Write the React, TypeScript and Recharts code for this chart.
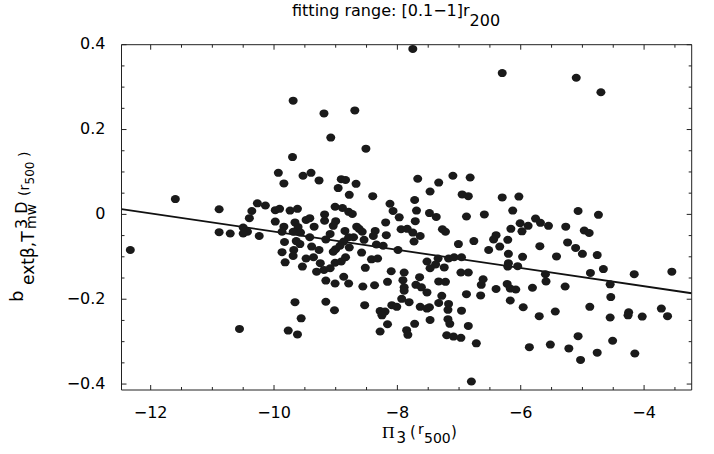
import React from 'react';
import { ScatterChart, Scatter, XAxis, YAxis, ReferenceLine } from 'recharts';

// Pi_3 (x) and b (y) values, one pair per cluster
const piX = [
  -8.51, -9.70, -9.93, -9.84, -9.53, -9.40, -9.27, -8.91, -8.84, -8.96,
  -8.67, -8.78, -8.40, -7.67, -7.33, -7.47, -7.10, -6.82, -6.95, -6.85,
  -6.30, -6.03, -10.89, -10.36, -10.27, -10.14, -10.40, -9.98, -9.91, -9.74,
  -9.62, -9.98, -9.01, -8.89, -8.79, -8.73, -9.18, -9.18, -9.48, -9.42,
  -9.00, -8.12, -8.07, -7.97, -7.72, -7.69, -7.71, -7.48, -7.37, -6.88,
  -6.59, -6.13, -5.07, -4.74, -5.76, -5.68, -5.55, -10.89, -10.71, -10.50,
  -10.43, -10.50, -10.24, -9.84, -9.87, -9.66, -9.61, -9.69, -9.57, -9.35,
  -9.04, -9.09, -9.16, -8.85, -8.79, -8.66, -8.62, -8.57, -8.71, -8.54,
  -8.36, -8.39, -8.19, -8.18, -7.94, -7.84, -7.75, -7.63, -7.73, -7.27,
  -7.22, -6.16, -6.01, -5.98, -5.88, -5.27, -4.97, -4.89, -6.40, -6.44,
  -6.21, -9.83, -9.64, -9.58, -9.42, -9.39, -9.27, -9.87, -9.68, -9.69,
  -9.00, -9.04, -8.87, -8.78, -8.93, -8.58, -8.34, -8.23, -7.99, -7.01,
  -6.76, -6.52, -6.34, -5.69, -5.24, -5.11, -6.20, -5.97, -5.42, -5.00,
  -4.76, -9.82, -9.48, -9.36, -9.25, -9.54, -9.31, -9.19, -9.09, -9.01,
  -8.91, -8.84, -8.42, -8.32, -8.52, -7.52, -7.34, -7.38, -7.47, -7.24,
  -7.17, -7.08, -6.96, -8.10, -7.89, -6.97, -6.85, -6.20, -6.05, -6.21,
  -4.66, -4.87, -5.60, -4.16, -9.16, -9.01, -8.87, -8.79, -8.56, -8.37,
  -8.16, -7.91, -7.89, -7.64, -7.70, -7.61, -7.89, -7.52, -7.33, -7.22,
  -6.61, -6.64, -6.88, -6.65, -6.40, -6.22, -6.17, -6.08, -5.81, -5.59,
  -5.28, -4.55, -4.54, -9.66, -9.16, -9.02, -9.56, -8.53, -8.28, -8.20,
  -8.25, -8.09, -8.01, -7.93, -7.81, -7.63, -7.52, -7.48, -7.33, -7.28,
  -7.17, -7.18, -6.96, -7.47, -7.18, -7.15, -6.17, -5.96, -5.70, -5.44,
  -4.88, -4.55, -4.25, -4.26, -10.56, -9.77, -9.62, -8.28, -8.16, -7.85,
  -7.83, -7.72, -7.20, -7.09, -6.97, -6.85, -6.72, -5.86, -5.52, -5.22,
  -5.07, -5.03, -4.76, -4.51, -4.15, -6.80, -4.03, -7.75, -6.30, -5.10,
  -4.70, -9.69, -8.69, -9.19, -9.08, -12.33, -11.60, -3.55, -3.72, -3.62,
];

const bY = [
  0.155, 0.135, 0.098, 0.073, 0.091, 0.098, 0.080, 0.083, 0.081, 0.062,
  0.072, 0.046, 0.043, 0.084, 0.075, 0.054, 0.091, 0.087, 0.047, 0.043,
  0.040, 0.042, 0.012, 0.008, 0.026, 0.021, -0.009, 0.010, 0.013, 0.009,
  0.013, -0.017, 0.018, 0.015, 0.006, 0.001, 0.000, -0.015, -0.013, -0.009,
  -0.016, 0.025, 0.008, -0.007, 0.034, 0.009, -0.016, 0.003, -0.006, -0.005,
  0.000, 0.009, 0.008, -0.001, -0.010, -0.020, -0.027, -0.042, -0.045, -0.031,
  -0.041, -0.045, -0.051, -0.029, -0.041, -0.019, -0.030, -0.041, -0.043, -0.029,
  -0.027, -0.046, -0.059, -0.039, -0.054, -0.029, -0.034, -0.041, -0.054, -0.060,
  -0.039, -0.051, -0.019, -0.049, -0.035, -0.034, -0.043, -0.051, -0.064, -0.035,
  -0.041, -0.034, -0.021, -0.040, -0.027, -0.029, -0.038, -0.044, -0.049, -0.059,
  -0.060, -0.065, -0.063, -0.070, -0.054, -0.076, -0.084, -0.089, -0.084, -0.098,
  -0.082, -0.088, -0.064, -0.078, -0.074, -0.090, -0.071, -0.074, -0.084, -0.070,
  -0.063, -0.084, -0.076, -0.075, -0.066, -0.079, -0.093, -0.100, -0.099, -0.093,
  -0.096, -0.113, -0.104, -0.101, -0.115, -0.123, -0.135, -0.131, -0.127, -0.114,
  -0.111, -0.101, -0.106, -0.104, -0.126, -0.111, -0.104, -0.118, -0.127, -0.125,
  -0.104, -0.101, -0.101, -0.134, -0.137, -0.137, -0.137, -0.115, -0.122, -0.123,
  -0.129, -0.138, -0.141, -0.141, -0.156, -0.163, -0.147, -0.163, -0.170, -0.167,
  -0.159, -0.155, -0.172, -0.148, -0.166, -0.172, -0.180, -0.184, -0.158, -0.159,
  -0.153, -0.166, -0.188, -0.191, -0.176, -0.164, -0.175, -0.177, -0.173, -0.158,
  -0.170, -0.165, -0.195, -0.207, -0.206, -0.226, -0.245, -0.214, -0.228, -0.229,
  -0.238, -0.214, -0.218, -0.199, -0.207, -0.218, -0.222, -0.219, -0.209, -0.192,
  -0.211, -0.225, -0.227, -0.249, -0.247, -0.258, -0.203, -0.219, -0.240, -0.229,
  -0.218, -0.243, -0.231, -0.238, -0.270, -0.274, -0.283, -0.276, -0.259, -0.273,
  -0.284, -0.258, -0.285, -0.288, -0.291, -0.263, -0.304, -0.313, -0.307, -0.316,
  -0.287, -0.343, -0.326, -0.298, -0.328, -0.394, -0.241, 0.390, 0.333, 0.322,
  0.288, 0.268, 0.245, 0.238, 0.181, -0.084, 0.036, -0.135, -0.222, -0.240,
];

// linear fit drawn across the whole range
const fitX = [-12.473, -3.228];
const fitY = [0.0124, -0.1859];

const X_DOMAIN: [number, number] = [-12.473, -3.228];
const Y_DOMAIN: [number, number] = [-0.414, 0.4];

const xTicks = [
  -12, -11.5, -11, -10.5, -10, -9.5, -9, -8.5, -8, -7.5,
  -7, -6.5, -6, -5.5, -5, -4.5, -4, -3.5,
];
const xMajor = [-12, -10, -8, -6, -4];
const xMajorLabels = ['\u221212', '\u221210', '\u22128', '\u22126', '\u22124'];

const yTicks = [
  -0.4, -0.35, -0.3, -0.25, -0.2, -0.15, -0.1, -0.05, 0,
  0.05, 0.1, 0.15, 0.2, 0.25, 0.3, 0.35, 0.4,
];
const yMajor = [-0.4, -0.2, 0, 0.2, 0.4];
const yMajorLabels = ['\u22120.4', '\u22120.2', '0', '0.2', '0.4'];

const points = piX.map((x, i) => ({ x, y: bY[i] }));

const FONT = '"DejaVu Sans", "Liberation Sans", sans-serif';
const FRAME = '#222';

const labelFor = (v: number, major: number[], labels: string[]) => {
  const i = major.findIndex(m => Math.abs(m - v) < 1e-9);
  return i >= 0 ? labels[i] : null;
};

const BottomTick = ({ x, y, payload }: any) => {
  const lbl = labelFor(payload.value, xMajor, xMajorLabels);
  return (
    <g>
      <line x1={x} x2={x} y1={y} y2={y - (lbl ? 5 : 3)} stroke={FRAME} />
      {lbl && (
        <text x={x} y={y + 28} textAnchor="middle" fontSize={16} fontFamily={FONT} fill="#000">
          {lbl}
        </text>
      )}
    </g>
  );
};

const TopTick = ({ x, y, payload }: any) => {
  const lbl = labelFor(payload.value, xMajor, xMajorLabels);
  return <line x1={x} x2={x} y1={y} y2={y + (lbl ? 5 : 3)} stroke={FRAME} />;
};

const LeftTick = ({ x, y, payload }: any) => {
  const lbl = labelFor(payload.value, yMajor, yMajorLabels);
  return (
    <g>
      <line x1={x} x2={x + (lbl ? 5 : 3)} y1={y} y2={y} stroke={FRAME} />
      {lbl && (
        <text x={x - 16} y={y + 4.5} textAnchor="end" fontSize={16} fontFamily={FONT} fill="#000">
          {lbl}
        </text>
      )}
    </g>
  );
};

const RightTick = ({ x, y, payload }: any) => {
  const lbl = labelFor(payload.value, yMajor, yMajorLabels);
  return <line x1={x} x2={x - (lbl ? 5 : 3)} y1={y} y2={y} stroke={FRAME} />;
};

const Dot = (props: any) => (
  <ellipse cx={props.cx} cy={props.cy} rx={4.5} ry={4} fill="#1a1a1a" />
);

// draws nothing; only keeps the top/right frame axes alive
const NoDot = () => <g />;

// rotated piece of the y-axis title, baseline at screen x, starting at screen y
const Rot = ({ x, y, size, children }: any) => (
  <text transform={`translate(${x},${y}) rotate(-90)`} fontSize={size} fontFamily={FONT} fill="#000">
    {children}
  </text>
);

const App: React.FC = () => {
  return (
    <div style={{ position: 'absolute', left: 0, top: 0, width: 714, height: 454, background: '#fff' }}>
      <ScatterChart
        width={714}
        height={454}
        margin={{ top: 43.7, right: 21.3, bottom: 0, left: 0 }}
      >
        <XAxis
          type="number"
          dataKey="x"
          domain={X_DOMAIN}
          ticks={xTicks}
          interval={0}
          allowDataOverflow
          height={64}
          tickSize={0}
          tickMargin={0}
          tickLine={false}
          axisLine={{ stroke: FRAME }}
          tick={BottomTick}
        />
        <XAxis
          xAxisId="top"
          orientation="top"
          type="number"
          dataKey="x"
          domain={X_DOMAIN}
          ticks={xTicks}
          interval={0}
          allowDataOverflow
          height={1}
          tickSize={0}
          tickMargin={0}
          tickLine={false}
          axisLine={{ stroke: FRAME }}
          tick={TopTick}
        />
        <YAxis
          type="number"
          dataKey="y"
          domain={Y_DOMAIN}
          ticks={yTicks}
          interval={0}
          allowDataOverflow
          width={121.5}
          tickSize={0}
          tickMargin={0}
          tickLine={false}
          axisLine={{ stroke: FRAME }}
          tick={LeftTick}
        />
        <YAxis
          yAxisId="right"
          orientation="right"
          type="number"
          dataKey="y"
          domain={Y_DOMAIN}
          ticks={yTicks}
          interval={0}
          allowDataOverflow
          width={1}
          tickSize={0}
          tickMargin={0}
          tickLine={false}
          axisLine={{ stroke: FRAME }}
          tick={RightTick}
        />
        <Scatter data={points} xAxisId="top" yAxisId="right" shape={NoDot} isAnimationActive={false} />
        <Scatter data={points} shape={Dot} isAnimationActive={false} />
        <ReferenceLine
          segment={[{ x: fitX[0], y: fitY[0] }, { x: fitX[1], y: fitY[1] }]}
          stroke="#111"
          strokeWidth={1.8}
          ifOverflow="hidden"
        />
      </ScatterChart>
      <svg
        width={714}
        height={454}
        style={{ position: 'absolute', left: 0, top: 0, pointerEvents: 'none' }}
      >
        <text x={292} y={16} fontSize={16} fontFamily={FONT} fill="#000">
          fitting range: [0.1{'\u2212'}1]r
          <tspan dy={10}>200</tspan>
        </text>

        <text x={382} y={437.5} fontSize={17.5} fontFamily='"Liberation Serif", serif' fill="#000">{'\u03A0'}</text>
        <text x={396.5} y={443} fontSize={15} fontFamily={FONT} fill="#000">3</text>
        <text x={410} y={437} fontSize={15} fontFamily={FONT} fill="#000">(</text>
        <text x={418} y={434} fontSize={14} fontFamily={FONT} fill="#000">r</text>
        <text x={424} y={443} fontSize={14} fontFamily={FONT} fill="#000">500</text>
        <text x={451} y={437} fontSize={15} fontFamily={FONT} fill="#000">)</text>

        <Rot x={23} y={302} size={18}>b</Rot>
        <Rot x={33.5} y={285} size={17}>ext{'\u03B2'},T</Rot>
        <Rot x={26.5} y={229} size={16}>3 D</Rot>
        <Rot x={36} y={229} size={14}>mw</Rot>
        <Rot x={29} y={196} size={14}>(r</Rot>
        <Rot x={34} y={184.5} size={12}>500</Rot>
        <Rot x={29} y={157} size={14}>)</Rot>
      </svg>
    </div>
  );
};

export default App;
